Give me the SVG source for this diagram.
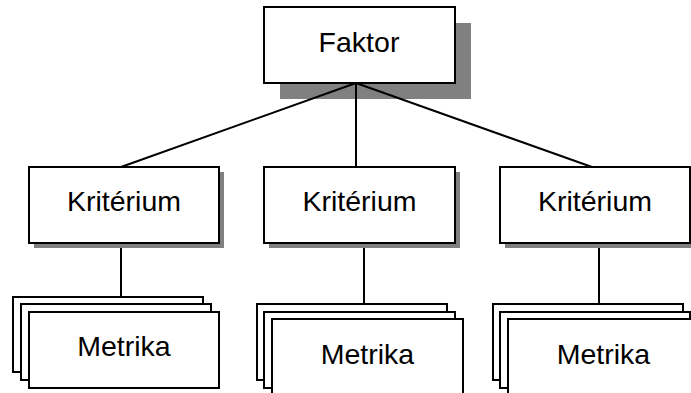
<svg xmlns="http://www.w3.org/2000/svg" width="691" height="393" viewBox="0 0 691 393">
  <style>
    .box { fill: #ffffff; stroke: #000000; stroke-width: 2; }
    .shadow { fill: #808080; stroke: none; }
    .edge { stroke: #000000; stroke-width: 2; fill: none; }
    .label { font-family: "Liberation Sans", Arial, sans-serif; font-size: 28.5px; fill: #000000; text-anchor: middle; }
  </style>
  <rect width="691" height="393" fill="#ffffff"/>

  <!-- factor (drawn first so the links run over its shadow) -->
  <g id="faktor">
    <rect class="shadow" x="280" y="23" width="191" height="76"/>
    <rect class="box" x="264" y="7" width="191" height="76"/>
    <text class="label" x="359" y="52">Faktor</text>
  </g>

  <!-- connectors -->
  <g id="connectors">
    <line class="edge" x1="356" y1="83" x2="121" y2="167"/>
    <line class="edge" x1="356" y1="83" x2="356" y2="167"/>
    <line class="edge" x1="356" y1="83" x2="592" y2="167"/>
    <line class="edge" x1="121" y1="243" x2="121" y2="297"/>
    <line class="edge" x1="364" y1="243" x2="364" y2="304"/>
    <line class="edge" x1="599" y1="243" x2="599" y2="304"/>
  </g>

  <!-- criteria -->
  <g id="kriterium-1">
    <rect class="shadow" x="34" y="172" width="190" height="76"/>
    <rect class="box" x="29" y="167" width="190" height="76"/>
    <text class="label" x="124" y="211">Kritérium</text>
  </g>
  <g id="kriterium-2">
    <rect class="shadow" x="269" y="172" width="191" height="76"/>
    <rect class="box" x="264" y="167" width="191" height="76"/>
    <text class="label" x="359.5" y="211">Kritérium</text>
  </g>
  <g id="kriterium-3">
    <rect class="shadow" x="505" y="172" width="190" height="76"/>
    <rect class="box" x="500" y="167" width="190" height="76"/>
    <text class="label" x="595" y="211">Kritérium</text>
  </g>

  <!-- metric stacks -->
  <g id="metrika-1">
    <rect class="box" x="13" y="297" width="190" height="75"/>
    <rect class="box" x="21" y="304" width="190" height="76"/>
    <rect class="box" x="29" y="312" width="190" height="76"/>
    <text class="label" x="124" y="356">Metrika</text>
  </g>
  <g id="metrika-2">
    <rect class="box" x="257" y="304" width="190" height="76"/>
    <rect class="box" x="264" y="312" width="191" height="76"/>
    <rect class="box" x="272" y="319" width="191" height="80"/>
    <text class="label" x="367.5" y="364">Metrika</text>
  </g>
  <g id="metrika-3">
    <rect class="box" x="493" y="304" width="190" height="76"/>
    <rect class="box" x="500" y="312" width="190" height="76"/>
    <rect class="box" x="508" y="319" width="191" height="80"/>
    <text class="label" x="603.5" y="364">Metrika</text>
  </g>
</svg>
